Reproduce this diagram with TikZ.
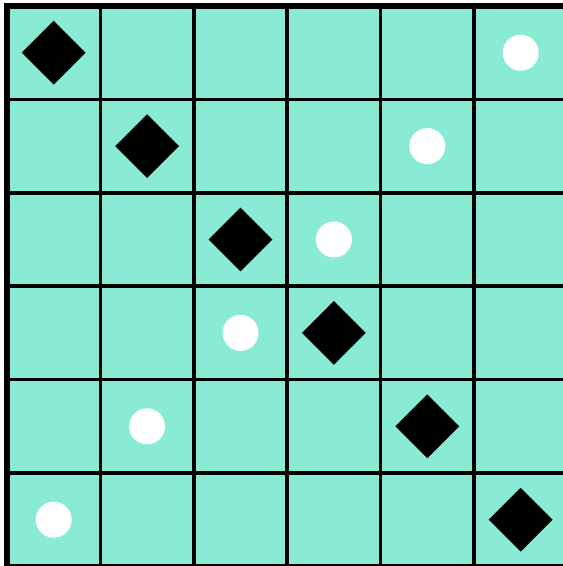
\documentclass[tikz,border=0pt]{standalone}
\usepackage{tikz}
\usetikzlibrary{shapes.geometric,positioning}
\definecolor{boardteal}{RGB}{138,235,213}

\tikzset{
    darkmark/.style={diamond, fill=black, inner sep=0pt, minimum width=64pt, minimum height=64pt},
    lightmark/.style={circle, fill=white, inner sep=0pt, minimum size=36pt}
}

\begin{document}
\begin{tikzpicture}[x=1pt,y=-1pt]
    \useasboundingbox (0,0) rectangle (563,566);
    \clip (0,0) rectangle (563,566);
    % board
    \fill[boardteal] (7,6) rectangle (567.4,566.4);
    \foreach \k in {1,...,5} {
        \draw[line width=3.5pt] ({7+93.4*\k},6) -- ({7+93.4*\k},566.4);
        \draw[line width=3.5pt] (7,{6+93.4*\k}) -- (567.4,{6+93.4*\k});
    }
    \draw[line width=5.5pt] (7,6) rectangle (567.4,566.4);
    % pieces
    \foreach \i in {0,...,5} {
        \node[darkmark] (d\i) at ({7+93.4*(\i+0.5)},{6+93.4*(\i+0.5)}) {};
        \node[lightmark] (w\i) at ({7+93.4*(5.5-\i)},{6+93.4*(\i+0.5)}) {};
    }
\end{tikzpicture}
\end{document}
